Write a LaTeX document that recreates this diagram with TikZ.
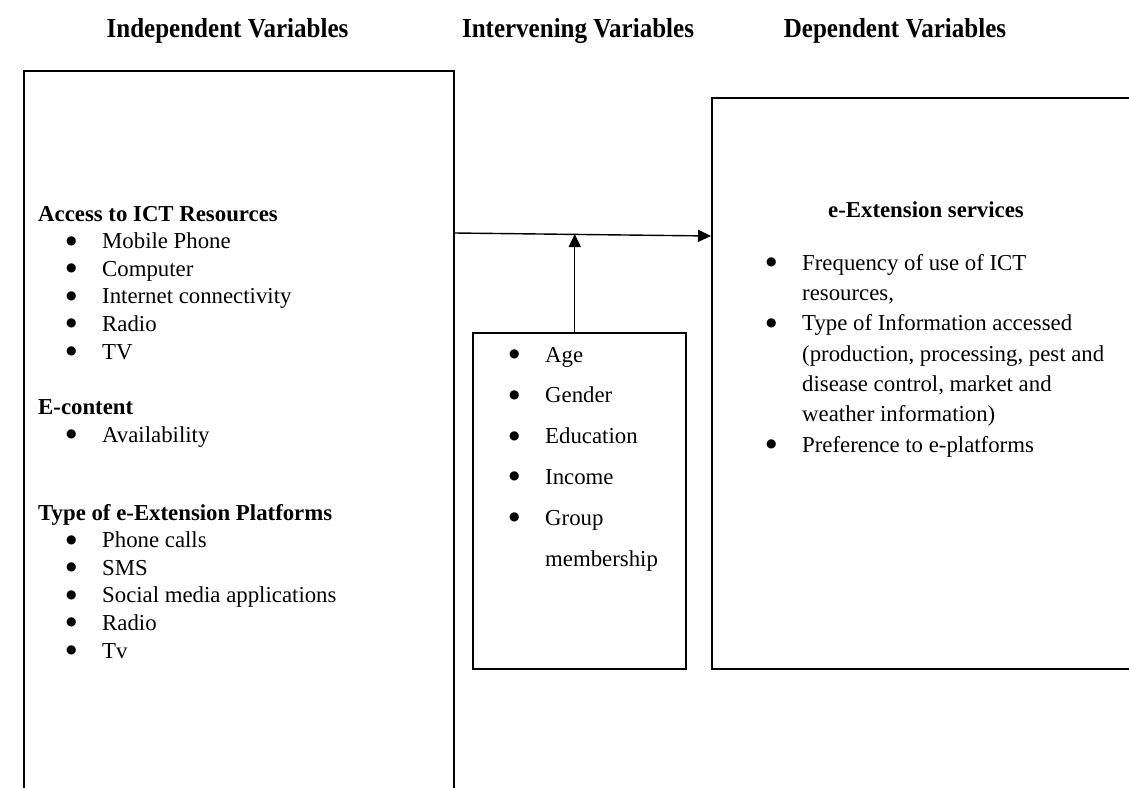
\documentclass[tikz,border=0pt]{standalone}
\usepackage{fontspec}
\setmainfont{Liberation Serif}
\newfontfamily\headfont[FakeStretch=0.91]{Liberation Serif}
\newfontfamily\dotfont{DejaVu Sans}
\usetikzlibrary{arrows.meta, positioning, calc}

\newcommand{\itm}{\makebox[36pt][l]{\raisebox{4.5pt}{\dotfont\fontsize{12}{12}\selectfont ●}}}

\tikzset{
  varbox/.style={draw, line width=1.5pt, inner sep=0pt, anchor=north west},
  headtxt/.style={font=\headfont\bfseries\fontsize{27.5}{30}\selectfont, anchor=base, inner sep=0pt},
  listtxt/.style={align=left, anchor=base west, inner sep=0pt, font=\fontsize{22.8}{27.6}\selectfont},
  link/.style={line width=1.4pt, -{Triangle[length=13pt,width=12pt]}}
}

\begin{document}
\begin{tikzpicture}[x=1pt, y=-1pt]
\useasboundingbox (0,0) rectangle (1129,787);
\clip (0,0) rectangle (1129,787);

% Headings
\node[headtxt] (hindep) at (227.5,37) {Independent Variables};
\node[headtxt] (hinterv) at (578,37) {Intervening Variables};
\node[headtxt] (hdep) at (895,37) {Dependent Variables};

% Independent (placed by the baseline of the last line)
\node[varbox, minimum width=430pt, minimum height=740pt] (indep) at (23,70) {};
\node[listtxt] (ictres) at (38,359) {\textbf{Access to ICT Resources}\\
  \hspace*{28pt}\itm Mobile Phone\\
  \hspace*{28pt}\itm Computer\\
  \hspace*{28pt}\itm Internet connectivity\\
  \hspace*{28pt}\itm Radio\\
  \hspace*{28pt}\itm TV};
\node[listtxt] (econt) at (38,442) {\textbf{E-content}\\
  \hspace*{28pt}\itm Availability};
\node[listtxt] (platf) at (38,658) {\textbf{Type of e-Extension Platforms}\\
  \hspace*{28pt}\itm Phone calls\\
  \hspace*{28pt}\itm SMS\\
  \hspace*{28pt}\itm Social media applications\\
  \hspace*{28pt}\itm Radio\\
  \hspace*{28pt}\itm Tv};

% Intervening
\node[varbox, minimum width=213pt, minimum height=336pt] (interv) at (472,332) {};
\node[listtxt, font=\fontsize{22.8}{40.8}\selectfont] (intlist) at (509,566) {\itm Age\\
  \itm Gender\\
  \itm Education\\
  \itm Income\\
  \itm Group\\
  \hspace*{36pt}membership};

% Dependent
\node[varbox, minimum width=440pt, minimum height=571pt] (dep) at (711,97) {};
\node[font=\bfseries\fontsize{22.8}{27.6}\selectfont, anchor=base, inner sep=0pt] (eext) at (926,217) {e-Extension services};
\node[listtxt, font=\fontsize{22.8}{30.3}\selectfont] (deplist) at (766,452) {\itm Frequency of use of ICT\\
  \hspace*{36pt}resources,\\
  \itm Type of Information accessed\\
  \hspace*{36pt}(production, processing, pest and\\
  \hspace*{36pt}disease control, market and\\
  \hspace*{36pt}weather information)\\
  \itm Preference to e-platforms};

% Links
\draw[link] ($(indep.north east)+(0,163)$) -- ($(dep.north west)+(0,139)$);
\draw[link] ($(interv.north)+(-4.5,0)$) -- ($(interv.north)+(-4.5,-98)$);
\end{tikzpicture}
\end{document}
